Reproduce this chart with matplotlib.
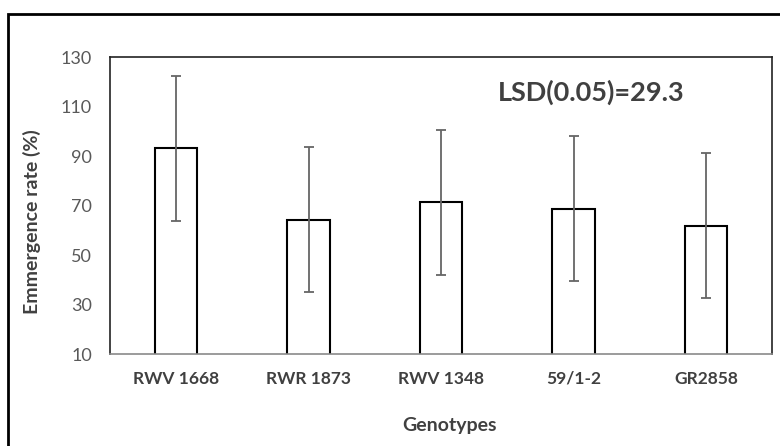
import matplotlib.pyplot as plt
from matplotlib.patches import Rectangle

# data
genotypes = ['RWV 1668', 'RWR 1873', 'RWV 1348', '59/1-2', 'GR2858']
emergence = [93.1, 64.2, 71.3, 68.8, 61.9]
lsd = 29.3

plt.rcParams['font.family'] = ['Lato', 'DejaVu Sans']

fig = plt.figure(figsize=(7.8, 4.46), dpi=100)
ax = fig.add_axes([0.141, 0.206, 0.849, 0.666])

x = range(len(genotypes))
ax.bar(x, emergence, width=0.32, bottom=0, color='white', edgecolor='black',
       linewidth=1.5, zorder=2)
ax.errorbar(x, emergence, yerr=lsd, fmt='none', ecolor='#666666',
            elinewidth=1.3, capsize=3.6, capthick=1.3, zorder=3)

ax.set_xlim(-0.5, len(genotypes) - 0.5)
ax.set_ylim(10, 130)
ax.set_yticks(range(10, 131, 20))
ax.set_xticks(list(x))
ax.set_xticklabels(genotypes, fontsize=12.5, fontweight='bold', color='#404040')
ax.tick_params(axis='both', length=0)
ax.tick_params(axis='y', labelsize=13, labelcolor='#595959', pad=13)
ax.tick_params(axis='x', pad=12)

for side in ['left', 'top', 'right']:
    ax.spines[side].set_color('#222222')
    ax.spines[side].set_linewidth(1.2)
ax.spines['bottom'].set_color('#8a8a8a')
ax.spines['bottom'].set_linewidth(1.2)

ax.set_xlabel('Genotypes', fontsize=14, fontweight='bold', color='#404040')
ax.xaxis.set_label_coords(0.512, -0.241)
ax.xaxis.label.set_va('center')
ax.set_ylabel('Emmergence rate (%)', fontsize=14, fontweight='bold',
              color='#404040')
ax.yaxis.set_label_coords(-0.118, 0.445)
ax.yaxis.label.set_va('center')

ax.text(3.13, 115.7, 'LSD(0.05)=29.3', fontsize=19.5, fontweight='bold',
        color='#404040', ha='center', va='center')

# outer chart border (cut off at right and bottom)
fig.patches.append(Rectangle((8 / 780, -0.1), 1.2, 1 - 14 / 446 + 0.1,
                             transform=fig.transFigure, fill=False,
                             edgecolor='black', linewidth=2))

plt.savefig('out.png', dpi=100)
